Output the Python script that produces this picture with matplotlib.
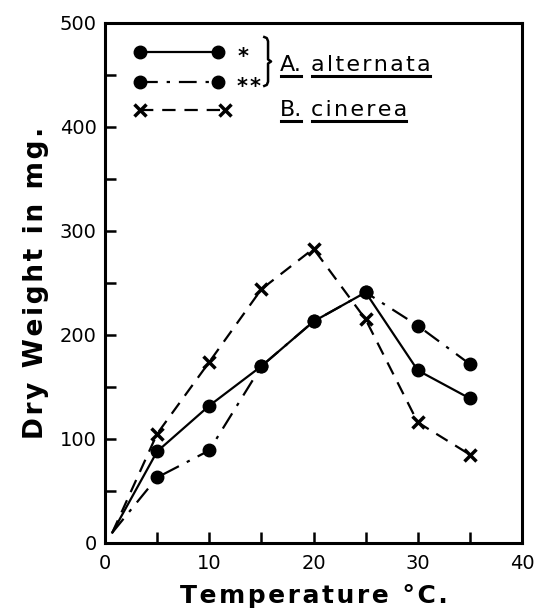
import matplotlib
matplotlib.use("Agg")
import matplotlib.pyplot as plt
from matplotlib.lines import Line2D

# ---- data ----
temps = [0.7, 5, 10, 15, 20, 25, 30, 35]
alt_single = [10, 88, 132, 170, 213, 241, 166, 139]    # A. alternata  *
alt_double = [10, 63, 89, 170, 213, 241, 209, 172]     # A. alternata  **
cinerea = [10, 105, 174, 244, 283, 215, 116, 85]       # B. cinerea

xticks_major = [0, 10, 20, 30, 40]
yticks_major = [0, 100, 200, 300, 400, 500]

plt.rcParams['font.family'] = ['DejaVu Sans']

HS = '\u200a'
WS = ' ' + HS * 2


def spaced(s):
    return HS.join(s)


fig = plt.figure(figsize=(5.41, 6.15), dpi=100)
ax = fig.add_axes([105/541, 1-543/615, 417/541, 520/615])

lw = 1.6
ms = 9
mark = list(range(1, len(temps)))

ax.plot(temps, alt_single, '-', color='black', lw=lw, marker='o', ms=ms, markevery=mark)
ax.plot(temps, alt_double, color='black', lw=lw, marker='o', ms=ms, markevery=mark,
        dashes=[8, 4, 1.5, 4])
ax.plot(temps, cinerea, color='black', lw=lw, marker='x', ms=9, mew=2.5, markevery=mark,
        dashes=[6, 4])

ax.set_xlim(0, 40)
ax.set_ylim(0, 500)
ax.set_xticks(xticks_major)
ax.set_yticks(yticks_major)
ax.set_xticks([5, 15, 25, 35], minor=True)
ax.set_yticks([50, 150, 250, 350, 450], minor=True)
ax.tick_params(which='both', direction='in', length=8, width=1.8, labelsize=14)
ax.tick_params(axis='x', pad=8)
ax.tick_params(axis='y', pad=6)
for s in ax.spines.values():
    s.set_linewidth(2.2)

ax.set_xlabel(spaced('Temperature') + WS + spaced('°C.'), fontsize=18, fontweight='bold',
              labelpad=8)
ax.set_ylabel(WS.join(spaced(w) for w in 'Dry Weight in mg.'.split()), fontsize=19,
              fontweight='bold', labelpad=8)

# ---- hand-drawn legend ----
T = ax.transAxes
ax.add_line(Line2D([0.084, 0.271], [0.945, 0.945], transform=T, color='black', lw=lw,
                   marker='o', ms=ms))
ax.add_line(Line2D([0.084, 0.271], [0.887, 0.887], transform=T, color='black', lw=lw,
                   marker='o', ms=ms, dashes=[8, 4, 1.5, 4]))
ax.add_line(Line2D([0.084, 0.288], [0.833, 0.833], transform=T, color='black', lw=lw,
                   marker='x', ms=9, mew=2.5, dashes=[6, 4]))
for sx, sy in [(0.331, 0.945), (0.328, 0.887), (0.360, 0.887)]:
    ax.text(sx, sy - 0.022, '*', transform=T, fontsize=15, fontweight='bold',
            ha='center', va='baseline')

# curly brace
bx, btop, bbot = 0.391, 0.973, 0.879
bmid = (btop + bbot) / 2
dx, dy = 0.009, 0.008
ax.add_line(Line2D([bx - dx, bx - dx/3, bx, bx, bx + dx*0.8, bx, bx, bx - dx/3, bx - dx],
                   [btop, btop - dy/4, btop - dy, bmid + dy/2, bmid, bmid - dy/2,
                    bbot + dy, bbot + dy/4, bbot],
                   transform=T, color='black', lw=1.8, solid_joinstyle='round'))

fs = 16
tA1 = ax.text(0.42, 0.919, 'A.', transform=T, fontsize=fs, va='center', ha='left')
tA2 = ax.text(0.494, 0.919, spaced('alternata'), transform=T, fontsize=fs, va='center', ha='left')
tB1 = ax.text(0.42, 0.833, 'B.', transform=T, fontsize=fs, va='center', ha='left')
tB2 = ax.text(0.494, 0.833, spaced('cinerea'), transform=T, fontsize=fs, va='center', ha='left')

fig.canvas.draw()
r = fig.canvas.get_renderer()
inv = ax.transAxes.inverted()
for t in (tA1, tA2, tB1, tB2):
    bb = t.get_window_extent(r)
    (x0, y0), (x1, y1) = inv.transform([[bb.x0 + 1, bb.y0], [bb.x1 - 1, bb.y1]])
    ax.add_line(Line2D([x0, x1], [y0 - 0.002, y0 - 0.002], transform=T, color='black', lw=2.2))

fig.savefig('out.png', dpi=100)
